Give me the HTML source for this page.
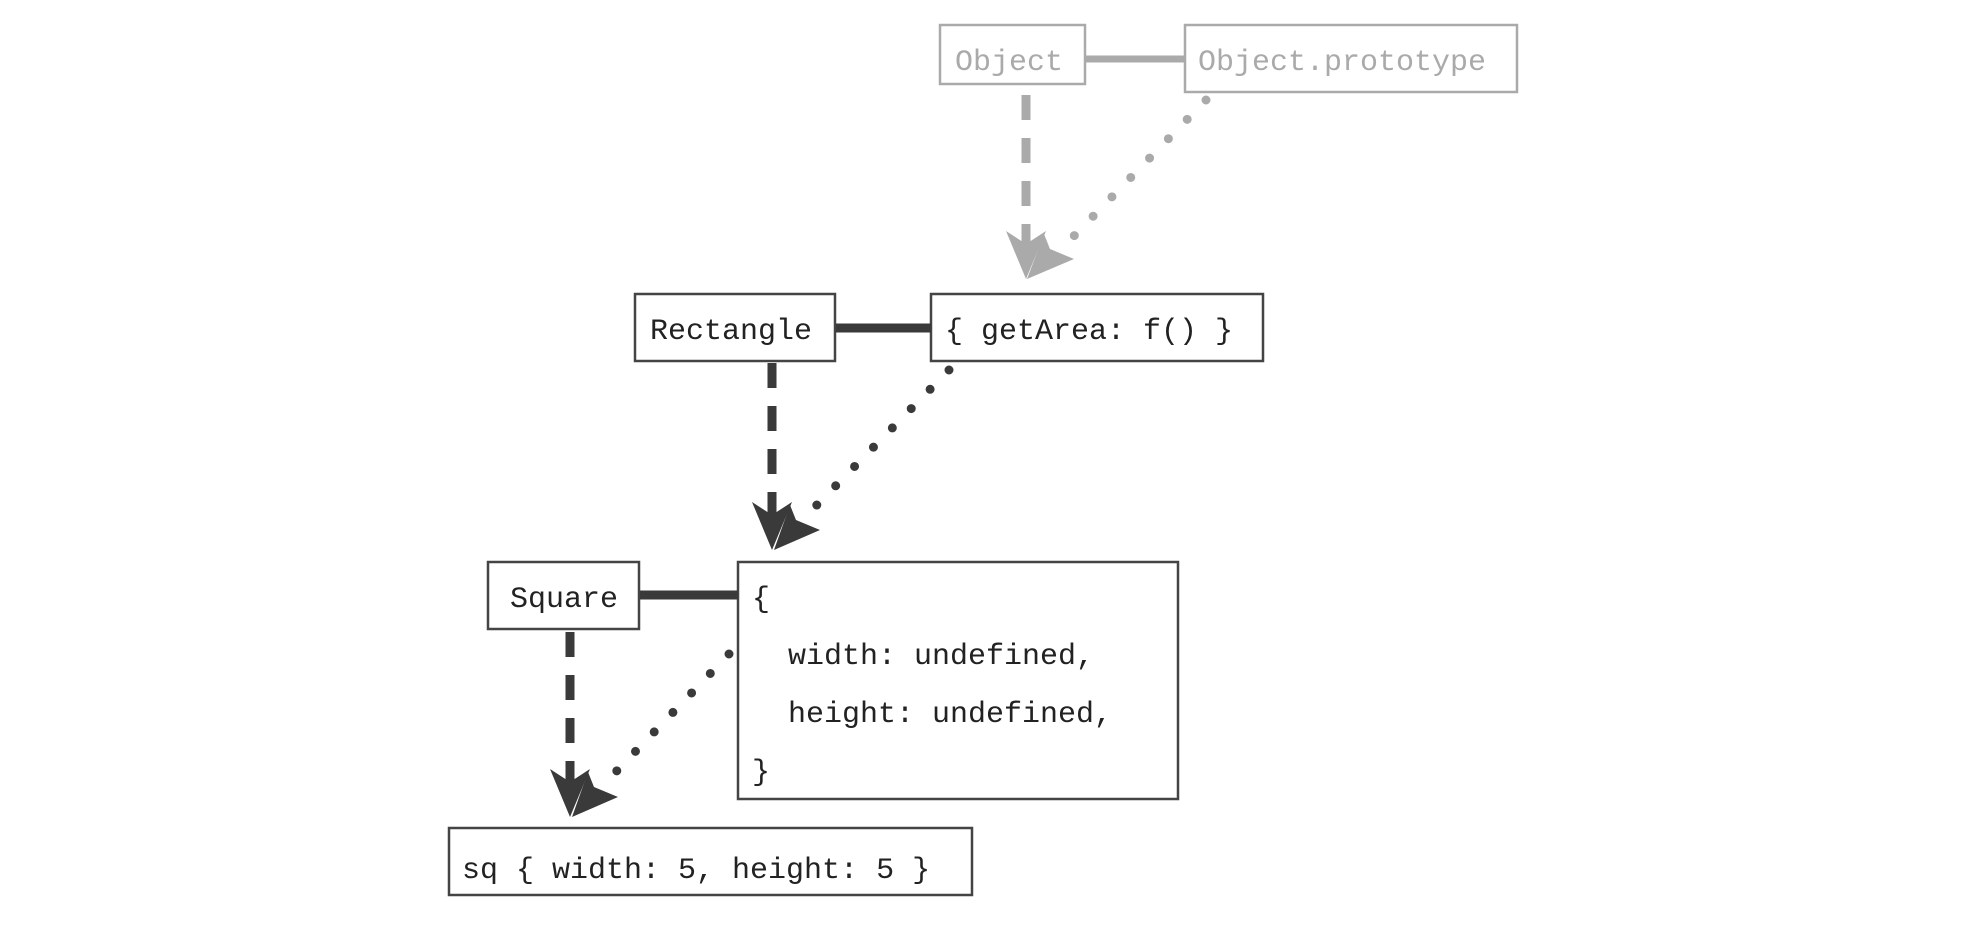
<!DOCTYPE html>
<html><head><meta charset="utf-8"><style>
html,body{margin:0;padding:0;background:#fff;}
svg{display:block}
text{font-family:"Liberation Mono",monospace;font-size:30px;}
</style></head><body>
<svg width="1972" height="937" viewBox="0 0 1972 937" xmlns="http://www.w3.org/2000/svg">
<rect width="1972" height="937" fill="#fff"/>
<!-- gray top -->
<g stroke="#aaa" fill="#fff" stroke-width="2.5">
<rect x="940" y="25" width="145" height="59"/>
<rect x="1185" y="25" width="332" height="67"/>
</g>
<line x1="1086" y1="59" x2="1185" y2="59" stroke="#aaa" stroke-width="7"/>
<text x="955" y="70" fill="#aaa">Object</text>
<text x="1198" y="70" fill="#aaa">Object.prototype</text>
<line x1="1026" y1="95" x2="1026" y2="250" stroke="#aaa" stroke-width="9" stroke-dasharray="25,18"/>
<line x1="1206" y1="100" x2="1070" y2="240" stroke="#aaa" stroke-width="9" stroke-linecap="round" stroke-dasharray="0,27"/>
<polygon points="1026,279 1006,231 1026,244 1046,231" fill="#aaa"/>
<polygon points="1027,279 1044,234 1050,249 1074,259" fill="#aaa"/>

<!-- dark middle -->
<g stroke="#444" fill="#fff" stroke-width="2.5">
<rect x="635" y="294" width="200" height="67"/>
<rect x="931" y="294" width="332" height="67"/>
<rect x="488" y="562" width="151" height="67"/>
<rect x="738" y="562" width="440" height="237"/>
<rect x="449" y="828" width="523" height="67"/>
</g>
<line x1="836" y1="328" x2="931" y2="328" stroke="#3a3a3a" stroke-width="9"/>
<line x1="640" y1="595" x2="738" y2="595" stroke="#3a3a3a" stroke-width="9"/>
<g fill="#222">
<text x="650" y="339">Rectangle</text>
<text x="945" y="339">{ getArea: f() }</text>
<text x="510" y="607">Square</text>
<text x="752" y="607">{</text>
<text x="788" y="664">width: undefined,</text>
<text x="788" y="722">height: undefined,</text>
<text x="752" y="780">}</text>
<text x="462" y="878">sq { width: 5, height: 5 }</text>
</g>
<line x1="772" y1="363" x2="772" y2="520" stroke="#3a3a3a" stroke-width="9" stroke-dasharray="25,18"/>
<line x1="949" y1="370" x2="810" y2="512" stroke="#3a3a3a" stroke-width="9" stroke-linecap="round" stroke-dasharray="0,27"/>
<polygon points="772,550 752,502 772,515 792,502" fill="#3a3a3a"/>
<polygon points="774,550 790,505 796,520 820,530" fill="#3a3a3a"/>

<line x1="570" y1="632" x2="570" y2="790" stroke="#3a3a3a" stroke-width="9" stroke-dasharray="25,18"/>
<line x1="729" y1="654" x2="608" y2="780" stroke="#3a3a3a" stroke-width="9" stroke-linecap="round" stroke-dasharray="0,27"/>
<polygon points="570,817 550,769 570,782 590,769" fill="#3a3a3a"/>
<polygon points="572,817 588,772 594,787 618,797" fill="#3a3a3a"/>
</svg>
</body></html>
